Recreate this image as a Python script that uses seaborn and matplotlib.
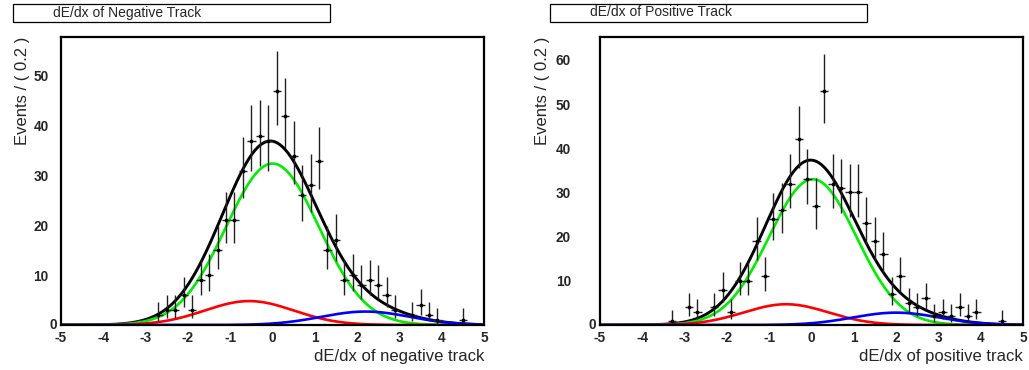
import matplotlib
matplotlib.use("Agg")
import matplotlib.pyplot as plt
import matplotlib.transforms as mtransforms
from matplotlib.patches import Rectangle
from matplotlib.ticker import MultipleLocator, FuncFormatter
import numpy as np
import pandas as pd
import seaborn as sns

# binned data (bin width 0.2)
neg_centers = [-2.7, -2.5, -2.3, -2.1, -1.9, -1.7, -1.5, -1.3, -1.1, -0.9, -0.7, -0.5,
               -0.3, -0.1, 0.1, 0.3, 0.5, 0.7, 0.9, 1.1, 1.3, 1.5, 1.7, 1.9, 2.1, 2.3,
               2.5, 2.7, 2.9, 3.3, 3.5, 3.7, 3.9, 4.5]
neg_counts = [2, 3, 3, 6, 3, 9, 10, 15, 21, 21, 31, 37,
              38, 37, 47, 42, 34, 26, 28, 33, 15, 17, 9, 10, 8, 9,
              8, 6, 3, 2, 4, 2, 1, 1]

pos_centers = [-3.3, -2.9, -2.7, -2.3, -2.1, -1.9, -1.7, -1.5, -1.3, -1.1, -0.9, -0.7,
               -0.5, -0.3, -0.1, 0.1, 0.3, 0.5, 0.7, 0.9, 1.1, 1.3, 1.5, 1.7, 1.9, 2.1,
               2.3, 2.5, 2.7, 2.9, 3.1, 3.3, 3.5, 3.7, 3.9, 4.5]
pos_counts = [1, 4, 3, 4, 8, 3, 10, 10, 19, 11, 24, 26,
              32, 42, 33, 27, 53, 32, 31, 30, 30, 23, 19, 16, 7, 11,
              5, 4, 6, 2, 3, 2, 4, 2, 3, 1]

# fitted components: signal (green), red and blue backgrounds
comp_colors = ["#00ee00", "#ff0000", "#0000ff"]
neg_amp = [32.4, 4.8, 2.7]
neg_mean = [0.0, -0.55, 2.2]
neg_sigma = [1.1, 1.05, 1.05]
pos_amp = [33.0, 4.7, 2.8]
pos_mean = [0.03, -0.6, 2.0]
pos_sigma = [1.03, 1.0, 1.02]

FONT = ["Liberation Sans", "DejaVu Sans"]


def poisson_errors(n):
    n = np.asarray(n, dtype=float)
    upper = 1 + np.sqrt(n + 0.75)
    lower = n - n * (1 - 1 / (9 * n) - 1 / (3 * np.sqrt(n))) ** 3
    return lower, upper


def draw_panel(ax, centers, counts, amps, means, sigmas, ymax, xlabel, ypad, ylabel_x):
    xs = np.linspace(-5, 5, 500)
    comps = [a * np.exp(-0.5 * ((xs - m) / s) ** 2) for a, m, s in zip(amps, means, sigmas)]
    total = np.sum(comps, axis=0)

    sns.lineplot(data=pd.DataFrame({"x": xs, "y": total}), x="x", y="y",
                 color="black", lw=2.1, ax=ax, sort=False)
    for comp, col in zip(comps, comp_colors):
        sns.lineplot(data=pd.DataFrame({"x": xs, "y": comp}), x="x", y="y",
                     color=col, lw=1.9, ax=ax, sort=False)

    lo, hi = poisson_errors(counts)
    ax.errorbar(centers, counts, yerr=[lo, hi], xerr=0.1, fmt="s", ms=1.5,
                color="black", ecolor="#222222", elinewidth=1.0, capsize=0, zorder=5)

    ax.set_xlim(-5, 5)
    ax.set_ylim(0, ymax)
    ax.xaxis.set_major_locator(MultipleLocator(1))
    ax.xaxis.set_minor_locator(MultipleLocator(0.5))
    ax.yaxis.set_major_locator(MultipleLocator(10))
    ax.yaxis.set_minor_locator(MultipleLocator(2))
    # the "0" label sits closer to the frame, drawn separately below
    ax.yaxis.set_major_formatter(FuncFormatter(lambda v, p: "" if v == 0 else f"{v:.0f}"))
    ax.tick_params(which="both", direction="in", top=False, right=False, width=1.2)
    ax.tick_params(which="major", length=6)
    ax.tick_params(which="minor", length=3)
    ax.tick_params(axis="x", pad=4)
    ax.tick_params(axis="y", pad=ypad)
    for lab in ax.get_xticklabels() + ax.get_yticklabels():
        lab.set_fontweight("bold")
        lab.set_fontsize(9.8)
        lab.set_family(FONT)
    trans = mtransforms.blended_transform_factory(ax.transAxes, ax.transData)
    ax.text(-0.01, 0, "0", transform=trans, ha="right", va="center",
            fontsize=9.8, fontweight="bold", family=FONT)

    ax.set_xlabel(xlabel, fontsize=12, family=FONT, loc="right")
    ax.xaxis.set_label_coords(1.0, -0.085)
    ax.set_ylabel("Events / ( 0.2 )", fontsize=12, family=FONT, loc="top")
    ax.yaxis.set_label_coords(ylabel_x, 1.0)
    for sp in ax.spines.values():
        sp.set_linewidth(1.6)
        sp.set_color("black")


sns.set_theme(style="white")
plt.rcParams["font.family"] = FONT
plt.rcParams["axes.unicode_minus"] = False

fig = plt.figure(figsize=(10.29, 3.70), dpi=100)
fig.patch.set_facecolor("white")

ax1 = fig.add_axes([61 / 1029, 45 / 370, 423 / 1029, 288 / 370])
ax2 = fig.add_axes([600 / 1029, 45 / 370, 423 / 1029, 288 / 370])

draw_panel(ax1, neg_centers, neg_counts, neg_amp, neg_mean, neg_sigma, 57.8,
           "dE/dx of negative track", 9, -0.073)
draw_panel(ax2, pos_centers, pos_counts, pos_amp, pos_mean, pos_sigma, 65.2,
           "dE/dx of positive track", 21, -0.118)

# title boxes
for x0, title in [(13, "dE/dx of Negative Track"), (550, "dE/dx of Positive Track")]:
    fig.patches.append(Rectangle((x0 / 1029, 348.5 / 370), 317 / 1029, 18 / 370,
                                 transform=fig.transFigure, facecolor="white",
                                 edgecolor="black", lw=0.9))
    fig.text((x0 + 40) / 1029, 357.5 / 370, title, fontsize=10, family=FONT,
             ha="left", va="center")

fig.savefig("out.png", dpi=100, facecolor="white")
